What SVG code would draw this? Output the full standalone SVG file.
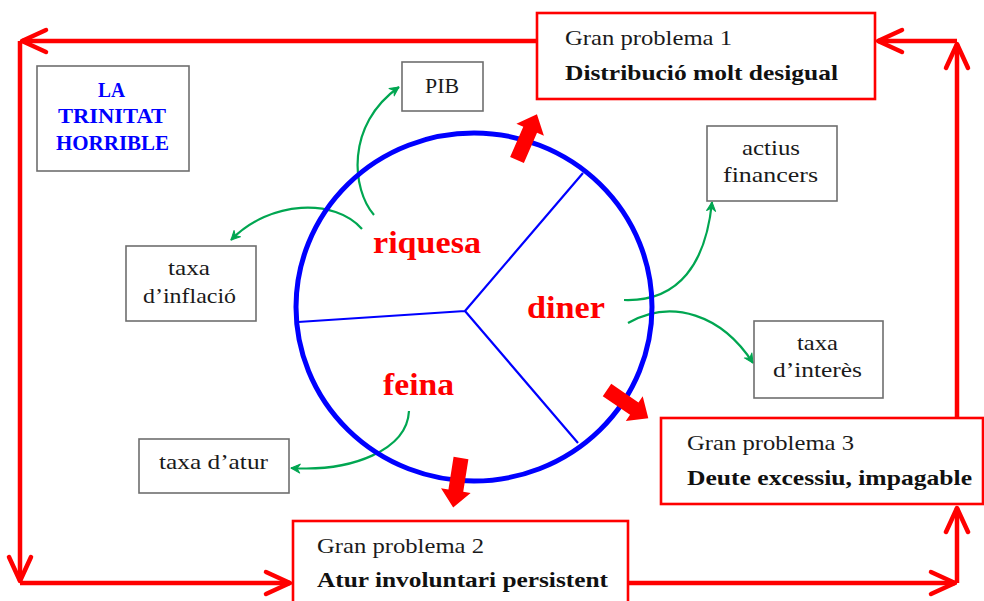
<svg xmlns="http://www.w3.org/2000/svg" width="984" height="601" viewBox="0 0 984 601">
<style>
.bg{fill:#ffffff}
.gbox{fill:#ffffff;stroke:#6e6e6e;stroke-width:1.6}
.rbox{fill:#ffffff;stroke:#ff0000;stroke-width:2.6}
.t{font-family:"Liberation Serif","Times New Roman",serif;font-size:22px;fill:#1a1a1a}
.tb{font-family:"Liberation Serif","Times New Roman",serif;font-size:22px;font-weight:bold;fill:#111111}
.blue{font-family:"Liberation Serif","Times New Roman",serif;font-size:21px;font-weight:bold;fill:#0000ff}
.lbl{font-family:"Liberation Serif","Times New Roman",serif;font-size:31px;font-weight:bold;fill:#ff0000}
.rline{fill:none;stroke:#ff0000;stroke-width:4.5;marker-end:url(#rarr)}
.gline{fill:none;stroke:#00a651;stroke-width:2.2;marker-end:url(#garr)}
.spoke{stroke:#0000ff;stroke-width:2.2;fill:none}
.fat{fill:#ff0000}
</style>
<defs>
<marker id="rarr" markerUnits="userSpaceOnUse" viewBox="-30 -15 34 30" markerWidth="34" markerHeight="30" refX="0" refY="0" orient="auto">
<path d="M-24,-11 L0,0 L-24,11" fill="none" stroke="#ff0000" stroke-width="4.5" stroke-linecap="round" stroke-linejoin="round"/>
</marker>
<marker id="garr" markerUnits="userSpaceOnUse" viewBox="-12 -7 14 14" markerWidth="14" markerHeight="14" refX="0" refY="0" orient="auto">
<path d="M-9,-4.5 L0,0 L-9,4.5 L-6,0 Z" fill="#00a651" stroke="#00a651" stroke-width="1" stroke-linejoin="round"/>
</marker>
<path id="fatarrow" d="M0,-7.5 L33,-7.5 L33,-15 L50,0 L33,15 L33,7.5 L0,7.5 Z"/>
</defs>
<rect class="bg" x="0" y="0" width="984" height="601"/>

<g id="connectors">
<path class="rline" d="M537,41 H22"/>
<path class="rline" d="M20,41 V581"/>
<path class="rline" d="M20,583 H290"/>
<path class="rline" d="M628,583 H955"/>
<path class="rline" d="M957,583 V508"/>
<path class="rline" d="M957,418 V44"/>
<path class="rline" d="M957,41 H878"/>
<path class="gline" d="M374,215 C352,190 345,125 399,87"/>
<path class="gline" d="M362,229 C335,198 270,200 231,240"/>
<path class="gline" d="M624,300 C680,302 706,262 712,202"/>
<path class="gline" d="M628,323 C672,298 722,315 753,363"/>
<path class="gline" d="M409,411 C407,450 352,472 291,468"/>
</g>

<g id="cycle">
<ellipse cx="474" cy="307" rx="178" ry="174" fill="none" stroke="#0000ff" stroke-width="5"/>
<path class="spoke" d="M465,311 L298,322 M465,311 L583,173 M465,311 L578,443"/>
<use href="#fatarrow" class="fat" transform="translate(517,160) rotate(-66.5)"/>
<use href="#fatarrow" class="fat" transform="translate(607,390) rotate(34.3)"/>
<use href="#fatarrow" class="fat" transform="translate(461,458) rotate(99)"/>
</g>

<g id="riquesa"><text class="lbl" x="373" y="253" textLength="108" lengthAdjust="spacingAndGlyphs">riquesa</text></g>
<g id="feina"><text class="lbl" x="383" y="395" textLength="71" lengthAdjust="spacingAndGlyphs">feina</text></g>
<g id="diner"><text class="lbl" x="527" y="318" textLength="78" lengthAdjust="spacingAndGlyphs">diner</text></g>

<g id="trinitat">
<rect class="gbox" x="37" y="66" width="152" height="105"/>
<text class="blue" x="98" y="97" textLength="27" lengthAdjust="spacingAndGlyphs">LA</text>
<text class="blue" x="58" y="123" textLength="108" lengthAdjust="spacingAndGlyphs">TRINITAT</text>
<text class="blue" x="56" y="150" textLength="113" lengthAdjust="spacingAndGlyphs">HORRIBLE</text>
</g>

<g id="pib">
<rect class="gbox" x="402" y="62" width="81" height="49"/>
<text class="t" x="425" y="93" textLength="34" lengthAdjust="spacingAndGlyphs">PIB</text>
</g>

<g id="actius">
<rect class="gbox" x="707" y="126" width="130" height="75"/>
<text class="t" x="742" y="155" textLength="58" lengthAdjust="spacingAndGlyphs">actius</text>
<text class="t" x="723" y="182" textLength="95" lengthAdjust="spacingAndGlyphs">financers</text>
</g>

<g id="inflacio">
<rect class="gbox" x="126" y="246" width="130" height="75"/>
<text class="t" x="168" y="275" textLength="42" lengthAdjust="spacingAndGlyphs">taxa</text>
<text class="t" x="143" y="303" textLength="93" lengthAdjust="spacingAndGlyphs">d’inflació</text>
</g>

<g id="interes">
<rect class="gbox" x="754" y="321" width="129" height="77"/>
<text class="t" x="797" y="350" textLength="41" lengthAdjust="spacingAndGlyphs">taxa</text>
<text class="t" x="773" y="377" textLength="89" lengthAdjust="spacingAndGlyphs">d’interès</text>
</g>

<g id="atur">
<rect class="gbox" x="139" y="439" width="150" height="54"/>
<text class="t" x="159" y="469" textLength="109" lengthAdjust="spacingAndGlyphs">taxa d’atur</text>
</g>

<g id="problema1">
<rect class="rbox" x="537" y="13" width="338" height="86"/>
<text class="t" x="565" y="45" textLength="167" lengthAdjust="spacingAndGlyphs">Gran problema 1</text>
<text class="tb" x="565" y="80" textLength="273" lengthAdjust="spacingAndGlyphs">Distribució molt desigual</text>
</g>

<g id="problema2">
<rect class="rbox" x="293" y="521" width="335" height="90"/>
<text class="t" x="317" y="553" textLength="167" lengthAdjust="spacingAndGlyphs">Gran problema 2</text>
<text class="tb" x="317" y="587" textLength="291" lengthAdjust="spacingAndGlyphs">Atur involuntari persistent</text>
</g>

<g id="problema3">
<rect class="rbox" x="661" y="418" width="322" height="86"/>
<text class="t" x="687" y="450" textLength="167" lengthAdjust="spacingAndGlyphs">Gran problema 3</text>
<text class="tb" x="687" y="485" textLength="285" lengthAdjust="spacingAndGlyphs">Deute excessiu, impagable</text>
</g>
</svg>
